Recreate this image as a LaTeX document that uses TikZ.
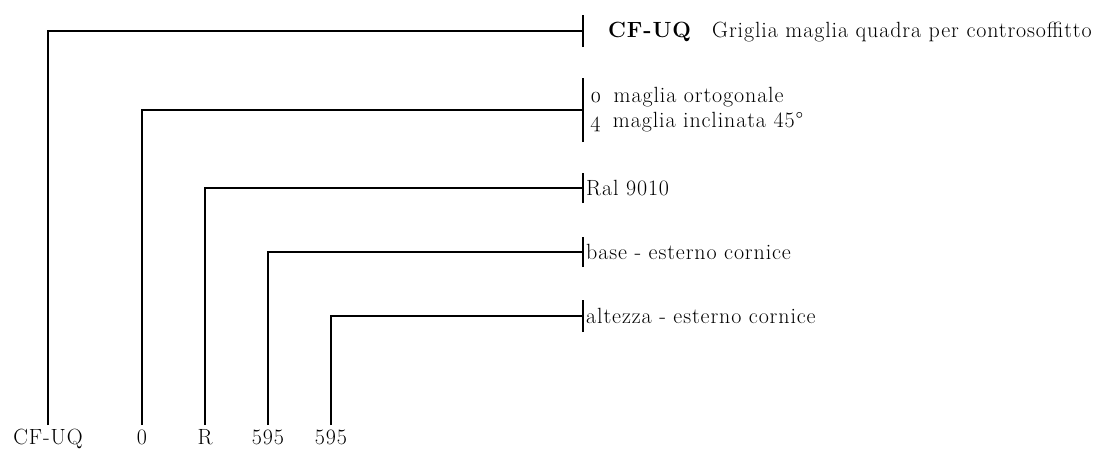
\documentclass[tikz,border=0pt]{standalone}
\usepackage{fontspec}
\setmainfont{Latin Modern Roman}[LetterSpace=4]
\begin{document}
\begin{tikzpicture}[x=1pt,y=-1pt,
  wire/.style={line width=2.4pt},
  tickline/.style={line width=2.4pt},
  lbl/.style={font=\fontsize{22}{26}\selectfont, inner sep=0pt, anchor=base},
  desc/.style={font=\fontsize{22}{26}\selectfont, inner sep=0pt, anchor=base west}]
\useasboundingbox (0,0) rectangle (1107,450);
% bottom labels
\node[lbl] (b1) at (48,444) {CF-UQ};
\node[lbl] (b2) at (142,444) {0};
\node[lbl] (b3) at (205,444) {R};
\node[lbl] (b4) at (268,444) {595};
\node[lbl] (b5) at (331,444) {595};
% ends of vertical connectors
\coordinate (e1) at (48,425);
\coordinate (e2) at (142,425);
\coordinate (e3) at (205,425);
\coordinate (e4) at (268,425);
\coordinate (e5) at (331,425);
% tick points
\coordinate (t1) at (583,31);
\coordinate (t2) at (583,110);
\coordinate (t3) at (583,188);
\coordinate (t4) at (583,252);
\coordinate (t5) at (583,316);
% connectors
\draw[wire] (e1) |- (t1);
\draw[wire] (e2) |- (t2);
\draw[wire] (e3) |- (t3);
\draw[wire] (e4) |- (t4);
\draw[wire] (e5) |- (t5);
% ticks
\draw[tickline] ([yshift=-16pt]t1) -- ([yshift=16pt]t1);
\draw[tickline] ([yshift=-32pt]t2) -- ([yshift=32pt]t2);
\draw[tickline] ([yshift=-15pt]t3) -- ([yshift=15pt]t3);
\draw[tickline] ([yshift=-15pt]t4) -- ([yshift=15pt]t4);
\draw[tickline] ([yshift=-16pt]t5) -- ([yshift=16pt]t5);
% descriptions
\node[desc] (d1a) at (608,37) {\bfseries CF-UQ};
\node[desc] (d1b) at (712,37) {Griglia maglia quadra per controsoffitto};
\node[desc] (d2a) at (590,102) {\oldstylenums{0}\hspace{12pt}maglia ortogonale};
\node[desc] (d2b) at (590,127) {\oldstylenums{4}\hspace{12pt}maglia inclinata 45\textdegree};
\node[desc] (d3) at (586,195) {Ral 9010};
\node[desc] (d4) at (586,259) {base - esterno cornice};
\node[desc] (d5) at (586,323) {altezza - esterno cornice};
\end{tikzpicture}
\end{document}
